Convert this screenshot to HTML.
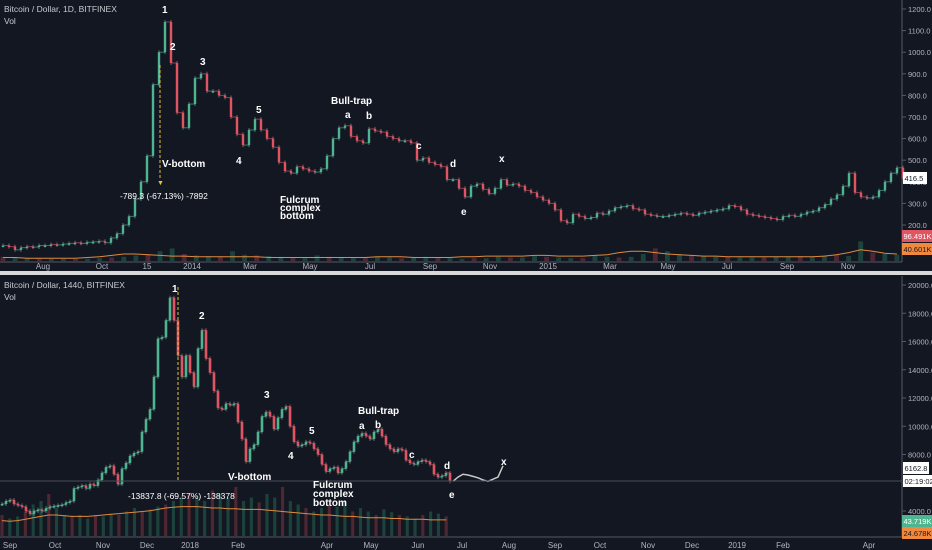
<!DOCTYPE html>
<html><head><meta charset="utf-8">
<style>
html,body{margin:0;padding:0;background:#131722;}
svg{display:block;font-family:"Liberation Sans",sans-serif;}
</style></head>
<body>
<svg id="c" width="932" height="550" viewBox="0 0 932 550">
<rect x="0" y="0" width="932" height="550" fill="#131722"/>
<rect x="0" y="271" width="932" height="4" fill="#d9d9d9"/>
<g id="top"></g>
<g id="bot"></g>
<g id="ann" font-weight="bold" fill="#ffffff" font-size="10"></g>
</svg>
<script>
// ---------- DATA ----------
const topCloses=[105,100,85,95,100,98,105,105,110,108,112,115,118,115,120,122,125,118,140,160,200,240,320,400,520,850,1000,1140,950,720,650,760,880,900,820,820,800,790,700,620,570,640,690,640,600,560,490,450,440,470,460,450,445,460,520,600,650,660,610,590,580,645,635,630,610,600,590,590,580,500,510,490,480,470,410,410,370,330,380,390,365,345,370,410,385,390,380,360,350,330,315,300,270,220,210,250,240,230,235,255,250,265,280,285,290,275,270,250,245,240,240,245,250,255,250,245,255,260,265,270,275,290,285,270,250,245,240,235,230,225,240,245,240,250,260,265,280,295,320,340,380,440,350,330,325,330,360,400,440,465,418];
const topVol=[6,5,4,4,3,3,3,3,4,5,6,8,10,14,18,10,8,7,6,14,9,8,7,6,5,5,8,6,5,4,5,6,5,4,5,6,5,4,3,4,4,6,5,5,7,6,5,4,4,8,6,5,6,10,18,14,10,8,7,6,6,5,5,5,6,6,7,6,8,9,7,28,12,10,9];
const topVolMA=[5,5,4,4,4,4,4,5,6,8,10,10,9,8,7,7,6,6,6,6,6,6,5,5,5,5,5,5,5,5,5,6,6,6,5,5,5,5,6,6,7,7,7,7,8,8,7,7,7,8,9,12,14,14,12,10,9,8,7,7,6,6,6,6,6,6,6,6,7,9,12,16,14,11,10];
const topTicks=[200,300,400,500,600,700,800,900,1000,1100,1200];
const topXLabels=[["Aug",43],["Oct",102],["15",147],["2014",192],["Mar",250],["May",310],["Jul",370],["Sep",430],["Nov",490],["2015",548],["Mar",610],["May",668],["Jul",727],["Sep",787],["Nov",848]];

const botCloses=[4500,4700,4780,4500,4400,4300,4000,3800,4000,4100,4000,4200,4300,4350,4400,4450,4600,4700,5600,5700,5800,5600,5900,5800,6200,6700,7100,7200,6600,5900,7000,7400,7900,8100,8200,9600,10500,11200,13500,16200,16300,17500,19100,17500,15000,13500,15000,13800,12800,15500,16800,14800,13800,12500,11300,11200,11600,11500,11600,10300,9100,7500,8400,8700,9600,10700,11000,10700,9800,10600,11200,11400,10000,8900,8600,8700,8900,8800,8400,8000,7300,6800,7000,7100,6700,7000,7500,8200,8900,9300,9500,9300,9100,9600,9800,9300,8700,8400,8200,8400,8300,7600,7400,7300,7500,7600,7500,7300,6600,6400,6500,6700,6100];
const botProj=[6100,6400,6600,6550,6450,6350,6200,6100,6250,6400,7200];
const botVol=[30,25,28,35,45,50,60,40,30,28,30,25,30,28,32,30,35,40,35,38,42,45,50,55,60,55,50,65,60,55,70,50,55,48,60,55,70,50,45,40,35,40,45,42,50,35,40,35,30,38,34,30,28,25,30,35,32,28];
const botVolMA=[22,21,22,24,26,28,30,30,29,28,28,28,29,30,31,32,33,34,35,36,38,40,41,42,42,42,41,40,40,39,39,38,38,38,37,36,35,34,33,32,31,30,30,29,28,28,27,26,26,26,25,25,24,24,24,23,23,23];
const botTicks=[4000,6000,8000,10000,12000,14000,16000,18000,20000];
const botXLabels=[["Sep",10],["Oct",55],["Nov",103],["Dec",147],["2018",190],["Feb",238],["Apr",327],["May",371],["Jun",418],["Jul",462],["Aug",509],["Sep",555],["Oct",600],["Nov",648],["Dec",692],["2019",737],["Feb",783],["Apr",869]];

// ---------- SCALES ----------
const NS="http://www.w3.org/2000/svg";
function mk(p,t,a){const e=document.createElementNS(NS,t);for(const k in a)e.setAttribute(k,a[k]);p.appendChild(e);return e;}
const topY=p=>9+(1200-p)*0.216;
const botY=p=>285+(20000-p)*0.014125;
const UP="#4fb591", DN="#e05561";

function pane(g,closes,yf,x0,step,bw,vol,volMA,vBase,vScale,ticks,tickFmt,xl,xlY,paneTop,paneBot){
  mk(g,'line',{x1:902,y1:paneTop,x2:902,y2:paneBot,stroke:'#555a66','stroke-width':1});
  mk(g,'line',{x1:0,y1:paneBot,x2:902,y2:paneBot,stroke:'#555a66','stroke-width':1});
  // volume
  const vstep=step*closes.length/vol.length;
  vol.forEach((v,i)=>{
    const r=mk(g,'rect',{x:x0+i*vstep-vstep*0.2,y:vBase-v*vScale,width:Math.max(vstep*0.4,1),height:v*vScale,fill:(i%3==0?'#5a2a34':'#1f4a41'),opacity:0.85});
    
    
  });
  let pts=volMA.map((v,i)=>(x0+i*vstep)+','+(vBase-v*vScale)).join(' ');
  const ma=mk(g,'polyline',{points:pts,fill:'none',stroke:'#e08a3c','stroke-width':1});
  
  
  // candles
  closes.forEach((c,i)=>{
    const o=i?closes[i-1]:c;
    const x=x0+i*step;
    const col=c>=o?UP:DN;
    const yo=yf(o),yc=yf(c);
    const hi=Math.min(yo,yc)-2,lo=Math.max(yo,yc)+2;
    const w=mk(g,'line',{x1:x,y1:hi,x2:x,y2:lo,stroke:'#8a8f99','stroke-width':0.7});
    
    
    if(i){const l=mk(g,'line',{x1:x-step,y1:yo,x2:x,y2:yo,stroke:col,'stroke-width':1,opacity:0.6});
      
      }
    const b=mk(g,'rect',{x:x-bw/2,y:Math.min(yo,yc),width:bw,height:Math.max(Math.abs(yo-yc),1.5),fill:col});
    
    
  });
  ticks.forEach(t=>{
    const y=yf(t);
    mk(g,'line',{x1:902,y1:y,x2:906,y2:y,stroke:'#555a66'});
    const tx=mk(g,'text',{x:908,y:y+3,fill:'#b2b5be','font-size':7.5});
    tx.textContent=tickFmt(t);
    
    
  });
  xl.forEach(([s,x])=>{
    const tx=mk(g,'text',{x:x,y:xlY,fill:'#b2b5be','font-size':8,'text-anchor':'middle'});
    tx.textContent=s;
    
    
  });
}
const T=document.getElementById('top'),B=document.getElementById('bot');
pane(T,topCloses,topY,3,6,2.4,topVol,topVolMA,261,0.7,topTicks,t=>t.toFixed(1),topXLabels,269,0,262);
pane(B,botCloses,botY,2,4,2.6,botVol,botVolMA,536,0.7,botTicks,t=>t.toFixed(1),botXLabels,548,276,537);
// projection
const pp=botProj.map((v,i)=>(453+i*5)+','+botY(v)).join(' ');
const pj=mk(B,'polyline',{points:pp,fill:'none',stroke:'#c8c8c8','stroke-width':1.5});


mk(B,'line',{x1:0,y1:481,x2:902,y2:481,stroke:'#4a4e58','stroke-width':1});

// ---------- LABELS ----------
const A=document.getElementById('ann');
function lab(x,y,s,name,opts){const t=mk(A,'text',Object.assign({x:x,y:y},opts||{}));t.textContent=s;
 return t;}
function box(x,y,w,s,bg,fg,name){
 const r=mk(A,'rect',{x:x,y:y-6,width:w,height:12,fill:bg});
 
 lab(x+1.5,y+3,s,name,{fill:fg,'font-size':7.5,'font-weight':'normal'});}
lab(4,12,'Bitcoin / Dollar, 1D, BITFINEX','top-title',{fill:'#c8cad0','font-size':8.5,'font-weight':'normal'});
lab(4,24,'Vol','top-vol-label',{fill:'#c8cad0','font-size':8.5,'font-weight':'normal'});
lab(4,288,'Bitcoin / Dollar, 1440, BITFINEX','bottom-title',{fill:'#c8cad0','font-size':8.5,'font-weight':'normal'});
lab(4,300,'Vol','bottom-vol-label',{fill:'#c8cad0','font-size':8.5,'font-weight':'normal'});
// top annotations
[[162,13,'1'],[170,50,'2'],[200,65,'3'],[236,164,'4'],[256,113,'5'],[331,104,'Bull-trap'],[345,118,'a'],[366,119,'b'],[416,149,'c'],[450,167,'d'],[461,215,'e'],[499,162,'x']].forEach(a=>lab(a[0],a[1],a[2],'top-wave-label'));
lab(162,167,'V-bottom','top-v-bottom');
lab(120,199,'-789.3 (-67.13%) -7892','top-measure-text',{'font-weight':'normal','font-size':8.5});
lab(280,203,'Fulcrum','top-fulcrum-1');lab(280,211,'complex','top-fulcrum-2');lab(280,219,'bottom','top-fulcrum-3');
mk(A,'line',{x1:160,y1:65,x2:160,y2:180,stroke:'#e6c23a','stroke-dasharray':'3,2','stroke-width':1});
mk(A,'text',{x:157,y:185,fill:'#e6c23a','font-size':7}).textContent='▼';
// bottom annotations
[[172,292,'1'],[199,319,'2'],[264,398,'3'],[288,459,'4'],[309,434,'5'],[358,414,'Bull-trap'],[359,429,'a'],[375,428,'b'],[409,458,'c'],[444,469,'d'],[449,498,'e'],[501,465,'x']].forEach(a=>lab(a[0],a[1],a[2],'bottom-wave-label'));
lab(228,480,'V-bottom','bottom-v-bottom');
lab(128,499,'-13837.8 (-69.57%) -138378','bottom-measure-text',{'font-weight':'normal','font-size':8.5});
lab(313,488,'Fulcrum','bottom-fulcrum-1');lab(313,497,'complex','bottom-fulcrum-2');lab(313,506,'bottom','bottom-fulcrum-3');
mk(A,'line',{x1:178,y1:287,x2:178,y2:480,stroke:'#e6c23a','stroke-dasharray':'3,2','stroke-width':1});
// price boxes
box(903,178,24,'416.5','#ffffff','#131722','top-last-price');
box(902,236,30,'96.491K','#e05561','#ffffff','top-volume-value');
box(902,249,30,'40.601K','#f0883e','#131722','top-volume-ma-value');
box(903,468,26,'6162.8','#ffffff','#131722','bottom-last-price');
box(903,481,29,'02:19:02','#ffffff','#131722','bottom-countdown');
box(902,521,30,'43.719K','#4fb591','#ffffff','bottom-volume-value');
box(902,533,30,'24.678K','#f0883e','#131722','bottom-volume-ma-value');
</script>
</body></html>
